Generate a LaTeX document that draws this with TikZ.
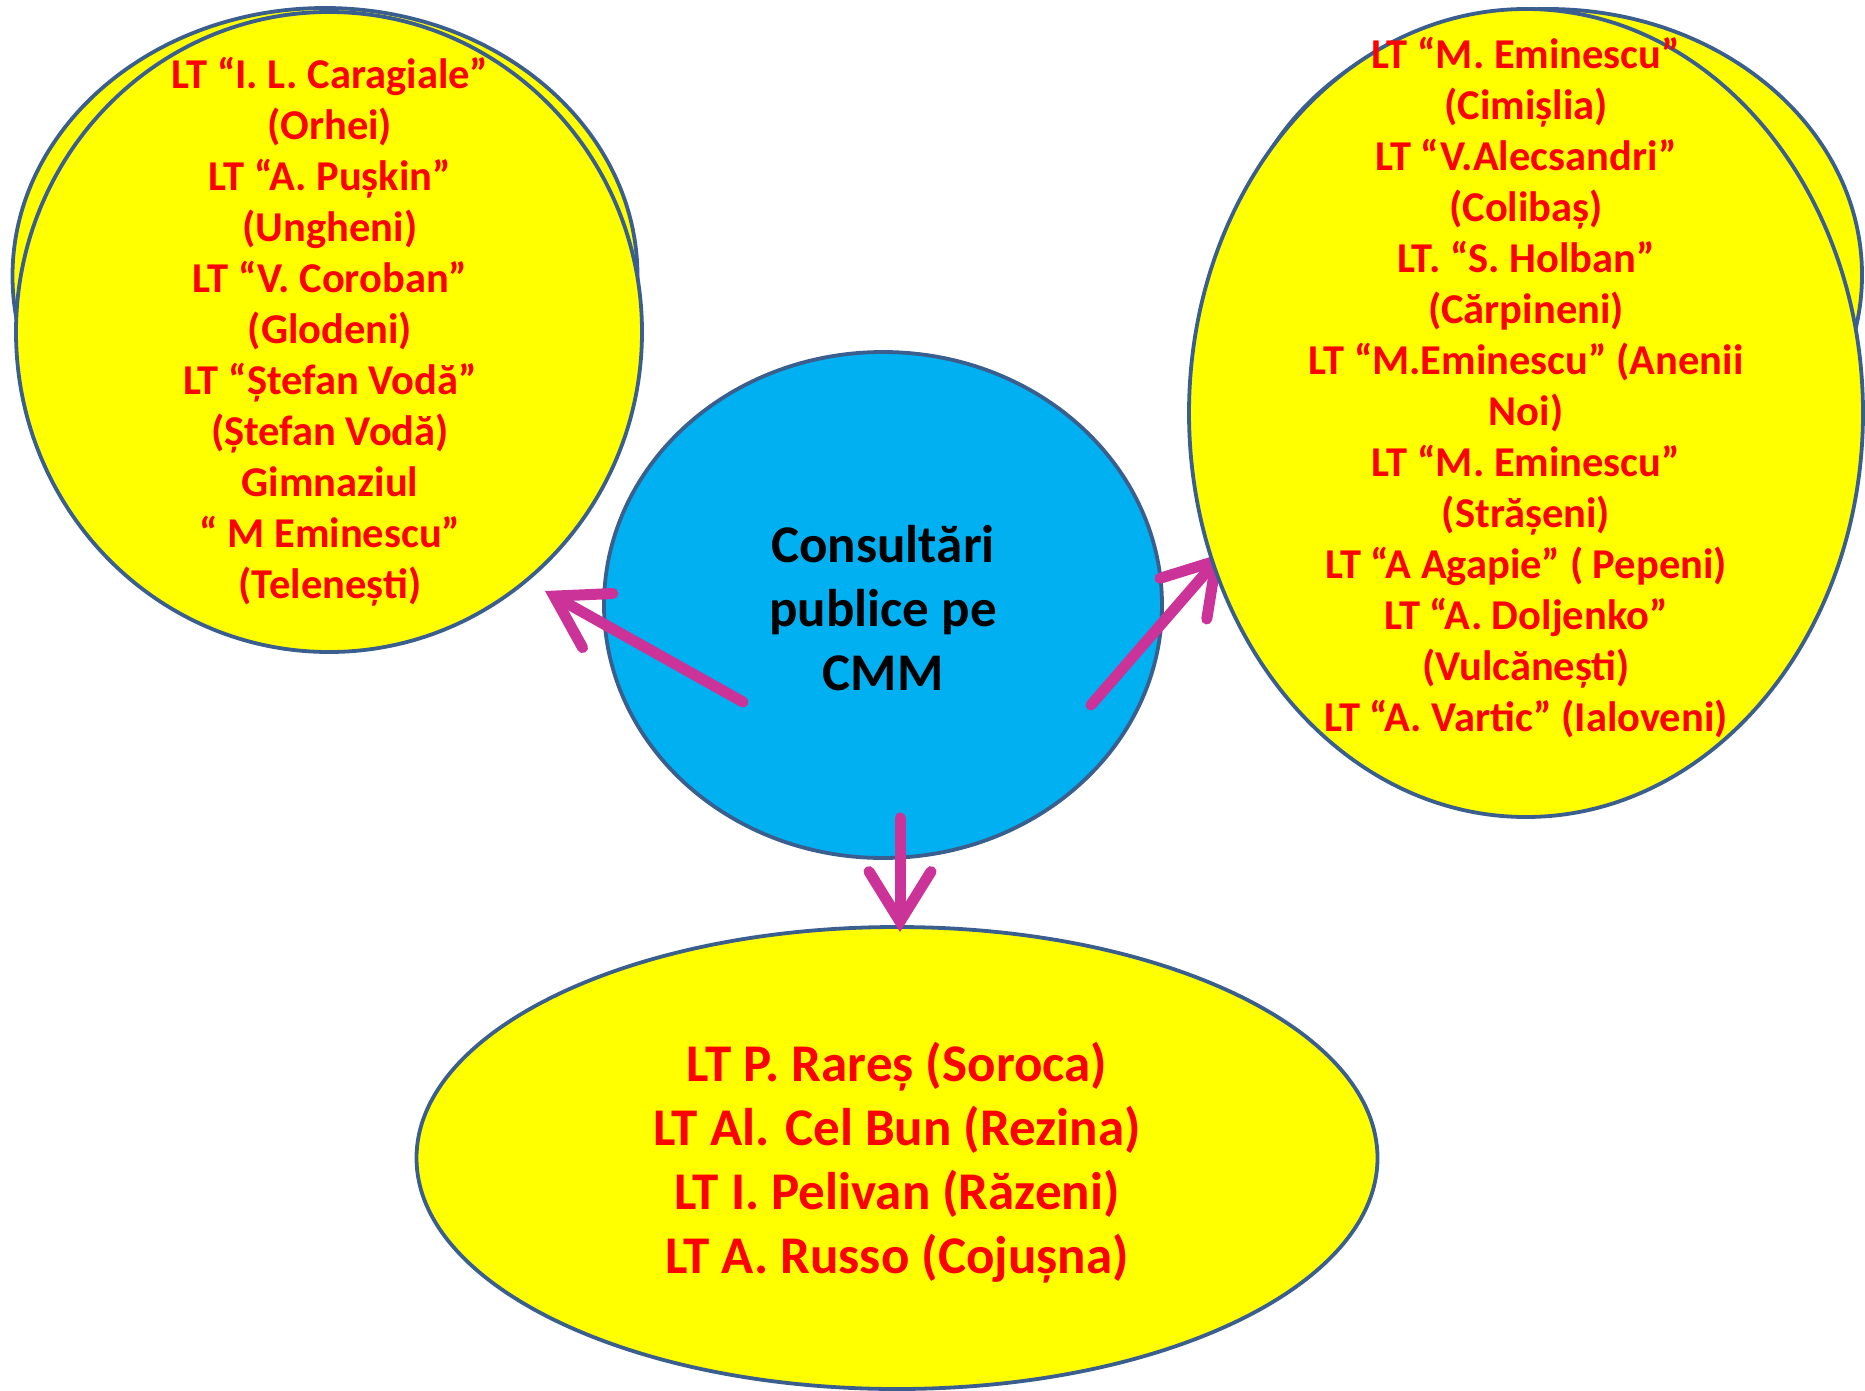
\documentclass[tikz,border=0pt]{standalone}
\usepackage{fontspec}
\setmainfont{Carlito}
\usetikzlibrary{shapes.geometric,arrows.meta}
\definecolor{ylw}{HTML}{FFFF00}
\definecolor{blu}{HTML}{00B0F0}
\definecolor{edge}{HTML}{3A5F8F}
\definecolor{mag}{HTML}{CC3399}
\definecolor{rd}{HTML}{FF0000}
\tikzset{
  bubble/.style={ellipse, draw=edge, line width=3.8pt, inner sep=0pt},
  redtxt/.style={text=rd, align=center, inner sep=0pt, font=\bfseries\fontsize{42.5}{51}\selectfont},
  bigtxt/.style={align=center, inner sep=0pt, font=\bfseries\fontsize{53}{64}\selectfont},
  arr/.style={draw=mag, line width=11pt, line cap=round, line join=round,
    -{Straight Barb[length=50pt,width=62pt,line cap=round]}},
}
\begin{document}
\begin{tikzpicture}[x=1pt,y=-1pt]
\useasboundingbox (0,0) rectangle (1865,1391);
% left bubbles
\node[bubble, fill=ylw, minimum width=625pt, minimum height=536pt] (lb) at (325,276) {};
\node[bubble, fill=ylw, minimum width=626pt, minimum height=640pt] (lf) at (329,332) {};
% centre bubble and right arrow (under the right bubbles)
\node[bubble, fill=blu, minimum width=558pt, minimum height=506pt] (c) at (883,605) {};
\coordinate (r1) at (1091,705);
\coordinate (r2) at (1223,553);
\draw[arr] (r1) -- (r2);
% right bubbles
\node[bubble, fill=ylw, minimum width=628pt, minimum height=532pt] (rb) at (1548,275) {};
\node[bubble, fill=ylw, minimum width=674pt, minimum height=808pt] (rf) at (1526,413) {};
% bottom bubble
\node[bubble, fill=ylw, minimum width=961pt, minimum height=462pt] (bb) at (897,1158) {};
% texts
\node[bigtxt] (ct) at (883,608) {Consultări\\publice pe\\CMM};
\node[redtxt] (lt) at (330,332) {LT “I. L. Caragiale”\\(Orhei)\\LT “A. Pușkin”\\(Ungheni)\\LT “V. Coroban”\\(Glodeni)\\LT “Ștefan Vodă”\\(Ștefan Vodă)\\Gimnaziul\\“ M Eminescu”\\(Telenești)};
\node[redtxt] (rt) at (1526,388) {LT “M. Eminescu”\\(Cimișlia)\\LT “V.Alecsandri”\\(Colibaș)\\LT. “S. Holban”\\(Cărpineni)\\LT “M.Eminescu” (Anenii\\Noi)\\LT “M. Eminescu”\\(Strășeni)\\LT “A Agapie” ( Pepeni)\\LT “A. Doljenko”\\(Vulcănești)\\LT “A. Vartic” (Ialoveni)};
\node[bigtxt, text=rd] (bt) at (897,1163) {LT P. Rareș (Soroca)\\LT Al. Cel Bun (Rezina)\\LT I. Pelivan (Răzeni)\\LT A. Russo (Cojușna)};
% arrows
\coordinate (l1) at (743,702);
\coordinate (l2) at (545,591);
\draw[arr] (l1) -- (l2);
\coordinate (b1) at (900,818);
\coordinate (b2) at (900,932);
\draw[arr] (b1) -- (b2);
\end{tikzpicture}
\end{document}
